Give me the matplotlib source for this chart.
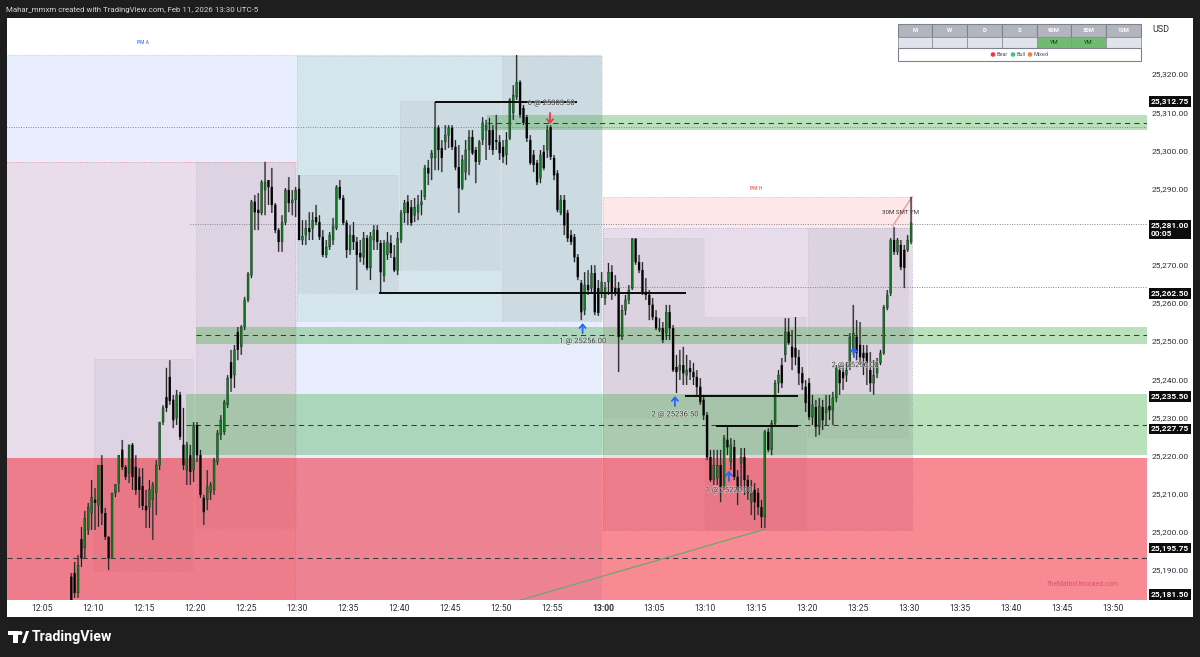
import numpy as np
import matplotlib
matplotlib.use('Agg')
import matplotlib.pyplot as plt
import matplotlib.patheffects as pe
from matplotlib.patches import Rectangle, Circle, Polygon

plt.rcParams['font.family'] = ['Roboto', 'DejaVu Sans']

PRICE_BASE = 25000

# 20 second candles, last one opens at 13:30. prices are minus PRICE_BASE
opens = [
    188.2, 189.2, 184.0, 198.1, 195.8, 200.5, 204.9, 208.4, 207.0, 217.5,
    204.9, 198.7, 193.4, 210.2, 212.8, 221.5, 217.0, 215.4, 222.8, 217.0,
    214.4, 212.0, 206.8, 206.5, 208.4, 210.2, 217.5, 228.8, 235.3, 240.6,
    234.6, 229.8, 235.9, 222.8, 216.2, 220.1, 216.2, 228.0, 220.1, 208.9,
    208.4, 210.4, 211.0, 218.3, 225.4, 226.2, 233.3, 244.5, 241.1, 252.4,
    248.5, 253.7, 260.8, 267.3, 286.5, 284.4, 283.6, 289.6, 292.2, 290.4,
    285.7, 279.1, 276.0, 281.2, 289.6, 286.2, 287.0, 289.9, 276.5, 277.8,
    279.6, 279.6, 282.5, 281.2, 277.3, 272.6, 274.7, 276.5, 279.6, 290.4,
    287.5, 281.0, 273.9, 277.8, 276.0, 273.1, 272.0, 277.0, 269.2, 276.5,
    279.1, 275.7, 267.1, 272.6, 275.7, 272.0, 268.6, 276.5, 283.6, 286.5,
    285.1, 283.0, 283.8, 285.7, 287.8, 295.4, 298.0, 298.0, 305.9, 300.6,
    302.2, 304.0, 305.9, 300.9, 295.6, 290.1, 294.3, 300.1, 303.5, 300.1,
    297.0, 302.7, 305.3, 305.3, 305.3, 302.7, 302.2, 300.9, 298.8, 303.2,
    309.8, 314.0, 317.9, 311.1, 308.7, 302.7, 298.8, 296.7, 292.7, 299.6,
    300.1, 306.1, 298.0, 294.0, 283.6, 287.0, 283.6, 277.8, 277.3, 272.0,
    265.2, 258.1, 264.7, 263.9, 267.8, 263.9, 262.6, 261.3, 265.5, 268.1,
    263.9, 263.9, 251.1, 258.1, 260.8, 263.9, 276.8, 270.7, 268.6, 262.9,
    262.1, 259.5, 256.3, 252.9, 253.4, 252.1, 257.6, 253.4, 243.2, 242.4,
    243.7, 241.1, 242.9, 241.9, 240.6, 238.0, 234.6, 230.6, 219.6, 213.6,
    214.1, 217.5, 211.8, 224.1, 218.3, 222.2, 214.4, 218.0, 219.6, 213.6,
    207.8, 211.0, 210.2, 206.5, 203.9, 226.2, 221.5, 228.5, 239.0, 243.7,
    246.4, 252.4, 248.5, 248.2, 245.8, 241.6, 238.0, 239.0, 230.1, 232.7,
    227.5, 232.7, 231.2, 233.0, 231.9, 235.1, 242.4, 241.9, 241.1, 243.2,
    247.7, 251.1, 249.0, 246.9, 246.9, 242.4, 239.0, 241.6, 244.3, 246.9,
    258.7, 262.6, 276.5, 273.4, 275.2, 273.9, 273.9, 276.0,
]
highs = [
    189.2, 192.1, 193.9, 201.3, 205.5, 207.6, 213.6, 211.5, 217.5, 220.1,
    206.3, 198.7, 210.2, 212.5, 220.1, 224.1, 217.5, 222.8, 223.3, 220.1,
    216.7, 216.7, 211.0, 213.6, 213.1, 218.8, 228.8, 233.2, 243.0, 245.0,
    235.9, 237.2, 236.7, 232.5, 223.6, 222.8, 228.8, 228.8, 221.5, 209.7,
    216.2, 213.1, 219.4, 226.7, 230.6, 234.6, 241.1, 247.7, 249.0, 253.7,
    254.2, 261.6, 268.1, 287.0, 288.3, 288.8, 292.2, 297.0, 292.2, 295.4,
    286.2, 279.6, 283.0, 290.1, 293.0, 289.6, 290.4, 293.5, 281.7, 281.7,
    283.8, 283.8, 285.7, 283.0, 279.1, 276.5, 278.6, 282.3, 290.9, 292.2,
    288.3, 281.7, 280.4, 281.2, 277.3, 276.5, 278.6, 277.8, 278.6, 280.4,
    280.4, 276.5, 276.5, 278.6, 277.8, 275.2, 278.6, 284.4, 287.0, 288.3,
    287.0, 287.5, 288.3, 289.6, 296.2, 297.5, 300.1, 312.7, 306.6, 302.7,
    306.6, 306.6, 306.6, 302.7, 301.4, 298.8, 302.7, 305.3, 305.3, 300.9,
    302.7, 308.7, 308.0, 308.5, 306.6, 309.3, 304.0, 302.7, 304.8, 313.7,
    317.1, 325.0, 318.4, 311.9, 309.3, 304.0, 300.1, 297.5, 300.1, 301.4,
    306.6, 306.6, 298.8, 294.8, 288.3, 288.3, 284.4, 279.1, 278.1, 272.8,
    266.0, 268.1, 268.6, 269.9, 269.9, 266.0, 268.1, 265.5, 270.5, 269.9,
    267.3, 265.5, 259.5, 262.1, 264.7, 277.0, 277.0, 272.6, 270.7, 266.5,
    263.4, 261.3, 258.1, 256.0, 255.0, 259.5, 259.5, 254.2, 246.4, 247.7,
    248.5, 246.4, 245.0, 244.3, 242.4, 240.3, 235.9, 231.4, 221.5, 221.5,
    221.5, 221.5, 225.4, 228.0, 224.6, 224.1, 216.2, 222.0, 222.0, 214.9,
    213.6, 212.8, 211.5, 208.4, 226.7, 227.2, 229.3, 239.8, 242.4, 245.6,
    256.0, 256.0, 252.9, 256.3, 247.7, 243.2, 239.8, 240.3, 235.9, 234.6,
    235.1, 234.6, 235.9, 235.9, 236.7, 243.7, 243.7, 243.7, 244.5, 252.1,
    259.5, 255.5, 255.0, 249.0, 249.0, 247.1, 245.0, 245.6, 247.7, 259.5,
    263.4, 277.0, 279.9, 277.0, 276.5, 275.2, 277.8, 287.8,
]
lows = [
    182.1, 182.7, 182.7, 190.8, 193.1, 199.2, 200.5, 200.5, 201.3, 201.8,
    197.9, 190.0, 193.1, 209.1, 210.4, 216.2, 213.6, 212.8, 211.0, 209.7,
    206.3, 205.7, 201.0, 201.0, 197.9, 204.4, 216.2, 228.0, 231.4, 233.3,
    227.2, 228.0, 224.1, 216.2, 212.3, 212.3, 213.1, 218.3, 208.9, 201.8,
    205.7, 208.4, 209.7, 217.5, 224.1, 225.4, 232.5, 236.7, 237.7, 245.0,
    246.4, 252.9, 260.2, 266.5, 279.1, 279.1, 283.0, 283.0, 285.7, 283.6,
    278.3, 273.4, 273.4, 280.4, 283.8, 283.0, 282.5, 276.5, 275.2, 275.2,
    276.5, 276.5, 280.4, 276.5, 272.0, 271.8, 273.9, 275.2, 279.1, 287.0,
    280.4, 271.8, 272.6, 273.9, 263.4, 270.7, 270.0, 268.6, 266.0, 273.9,
    273.9, 262.6, 265.5, 271.3, 271.8, 268.1, 267.3, 275.7, 281.0, 280.4,
    280.2, 281.2, 281.7, 283.0, 287.0, 290.9, 292.2, 294.8, 294.8, 294.3,
    300.1, 300.6, 300.1, 294.8, 283.6, 289.6, 292.2, 293.5, 298.8, 291.4,
    296.2, 301.4, 297.5, 300.1, 298.8, 300.1, 297.5, 296.7, 296.2, 302.7,
    308.0, 313.2, 308.5, 306.6, 302.2, 296.2, 294.3, 290.9, 291.4, 294.8,
    298.0, 297.5, 292.2, 283.8, 283.0, 277.8, 276.0, 275.2, 270.7, 266.0,
    255.5, 256.8, 262.1, 262.9, 256.8, 256.6, 261.3, 259.5, 262.1, 260.8,
    261.8, 241.9, 250.3, 256.8, 259.7, 263.4, 270.0, 267.8, 262.1, 260.8,
    255.5, 255.5, 252.9, 252.4, 249.5, 250.3, 250.3, 241.9, 236.4, 239.8,
    238.5, 238.5, 239.8, 238.5, 235.9, 233.3, 229.3, 218.8, 213.1, 212.3,
    212.3, 207.8, 211.0, 220.1, 216.2, 213.6, 207.0, 211.0, 209.7, 208.4,
    204.4, 203.1, 204.4, 201.0, 201.0, 220.9, 220.1, 228.0, 236.4, 237.7,
    244.5, 249.0, 242.4, 243.7, 238.5, 237.2, 231.4, 229.3, 228.0, 224.9,
    225.4, 226.7, 228.0, 229.3, 228.0, 234.0, 235.9, 237.2, 239.3, 242.4,
    246.4, 245.0, 243.7, 241.1, 238.5, 236.7, 235.9, 240.3, 243.7, 246.4,
    258.1, 261.8, 272.6, 272.6, 268.6, 263.9, 273.4, 275.4,
]
closes = [
    182.1, 184.0, 191.3, 193.1, 203.6, 206.5, 209.1, 207.6, 217.5, 204.9,
    198.7, 193.1, 210.2, 212.5, 220.1, 217.0, 214.4, 222.8, 214.4, 211.0,
    211.0, 206.8, 205.7, 211.2, 212.3, 217.5, 228.8, 232.5, 232.5, 234.3,
    229.3, 235.9, 224.9, 217.5, 222.8, 215.7, 228.0, 220.1, 209.7, 205.2,
    211.8, 212.3, 218.8, 225.9, 229.3, 234.0, 240.3, 240.3, 247.7, 247.7,
    253.7, 260.8, 267.6, 286.5, 283.8, 283.6, 291.7, 291.7, 290.4, 285.7,
    279.1, 276.0, 281.2, 289.6, 286.2, 287.0, 289.6, 276.5, 277.5, 279.6,
    278.6, 281.7, 281.2, 277.3, 272.6, 274.7, 277.8, 280.2, 290.4, 287.5,
    281.0, 273.9, 277.8, 276.0, 272.6, 272.0, 277.0, 269.2, 277.5, 279.1,
    276.0, 268.1, 275.7, 276.0, 273.1, 268.6, 277.0, 283.6, 286.2, 283.6,
    281.0, 285.1, 285.7, 286.5, 295.4, 294.0, 299.3, 305.9, 300.1, 298.0,
    304.0, 305.9, 300.9, 295.6, 290.1, 297.5, 300.1, 303.5, 299.3, 297.0,
    302.2, 307.2, 306.6, 301.4, 300.1, 302.2, 299.3, 298.3, 302.7, 313.2,
    314.5, 317.9, 309.3, 307.2, 303.2, 296.7, 296.2, 291.7, 298.8, 295.4,
    305.3, 298.3, 293.5, 284.4, 287.0, 280.4, 277.0, 276.0, 272.0, 266.8,
    257.6, 264.7, 263.4, 267.8, 257.6, 257.4, 265.5, 263.9, 268.1, 262.9,
    262.9, 251.1, 258.1, 260.8, 263.4, 276.8, 270.7, 268.6, 262.9, 262.1,
    259.5, 256.3, 253.4, 253.4, 250.3, 257.6, 253.4, 242.4, 241.9, 243.7,
    241.6, 242.4, 241.9, 240.6, 238.0, 234.0, 230.6, 219.6, 213.6, 217.5,
    217.5, 211.8, 224.6, 222.2, 222.8, 214.4, 211.0, 219.6, 213.6, 210.2,
    210.4, 207.8, 206.5, 203.9, 226.2, 221.5, 228.5, 239.0, 241.1, 239.0,
    252.4, 249.5, 245.8, 245.8, 241.6, 239.0, 233.8, 230.1, 233.3, 227.5,
    233.0, 229.3, 232.5, 231.9, 235.1, 243.0, 239.0, 240.3, 242.4, 251.1,
    252.1, 246.9, 245.8, 245.6, 244.3, 239.0, 241.1, 244.3, 246.9, 258.9,
    262.1, 276.5, 273.4, 276.5, 269.4, 269.2, 276.5, 281.0,
]

# minutes after 12:00 for the time axis
time_ticks = list(range(5, 115, 5))
time_labels = ['12:05', '12:10', '12:15', '12:20', '12:25', '12:30', '12:35', '12:40', '12:45', '12:50',
               '12:55', '13:00', '13:05', '13:10', '13:15', '13:20', '13:25', '13:30', '13:35', '13:40',
               '13:45', '13:50']
price_ticks = [25190, 25200, 25210, 25220, 25230, 25240, 25250, 25260, 25270,
               25290, 25300, 25310, 25320]
price_labels = ['25,190.00', '25,200.00', '25,210.00', '25,220.00', '25,230.00', '25,240.00', '25,250.00',
                '25,260.00', '25,270.00', '25,290.00', '25,300.00', '25,310.00', '25,320.00']
# price tags: price shown, level they sit at
tag_labels = ['25,312.75', '25,262.50', '25,235.50', '25,227.75', '25,195.75', '25,181.50']
tag_levels = [25312.75, 25262.5, 25235.5, 25227.0, 25195.75, 25183.6]

# session and range boxes: t0, t1, low, high
pm_a = (1.5, 59.8, 25180, 25325)
pm_a_low = (1.5, 29.8, 25180, 25296.9)
pm_a_high = (30, 59.8, 25255.3, 25324.7)
pm_h = (60, 90.3, 25200.5, 25287.8)
pm_h_range = (60, 90.3, 25200.5, 25279.6)
grey_boxes = [
    (10.1, 19.8, 25189.7, 25245.3),
    (20.1, 29.9, 25201.0, 25296.9),
    (30.1, 39.9, 25262.6, 25293.5),
    (40.1, 49.9, 25268.6, 25312.9),
    (50.1, 59.9, 25255.3, 25324.7),
    (60.0, 69.9, 25229.8, 25277.0),
    (70.0, 79.9, 25200.5, 25256.3),
    (80.1, 89.9, 25224.6, 25279.6),
]
# supply / demand zones: t0, low, high, mid
green_zones = [
    (48.6, 25305.3, 25309.2, 25307.2),
    (20.1, 25249.2, 25253.7, 25251.6),
    (19.1, 25220.1, 25236.1, 25228.0),
]
red_zone = (1.5, 25180, 25219.4)
red_mid = 25193.1

# black levels: t0, t1, price
level_lines = [
    (43.5, 57.45, 25312.7),
    (38.0, 68.15, 25262.6),
    (68.0, 79.1, 25235.6),
    (71.1, 79.1, 25227.75),
]
# dotted levels: t0, price
dotted_lines = [(1.5, 25306.1), (19.5, 25280.7), (60.0, 25264.2)]

# entries: t, arrow tail, arrow tip, colour
arrows = [
    (58.0, 25252.1, 25254.7, '#2962ff'),
    (67.05, 25233.0, 25235.6, '#2962ff'),
    (72.35, 25213.3, 25216.0, '#2962ff'),
    (84.6, 25245.8, 25248.5, '#2962ff'),
    (54.8, 25309.8, 25306.9, '#f23645'),
]
notes = ['6 @ 25303.50', '1 @ 25256.00', '2 @ 25236.50', '1 @ 25220.00', '2 @ 25256.00']
note_t = [54.9, 58.0, 67.05, 72.35, 84.7]
note_p = [25312.4, 25250.0, 25230.8, 25210.9, 25243.7]

table_cols = ['M', 'W', 'D', 'S', '90M', '30M', '10M']
table_vals = ['', '', '', '', 'YM', 'YM', '']


def add_box(ax, box, color, alpha, edge=None, z=1):
    # box is t0, t1, low, high
    t0, t1, low, high = box
    ax.add_patch(Rectangle((t0, low), t1 - t0, high - low, facecolor=color, alpha=alpha,
                           edgecolor='none', zorder=z))
    if edge:
        ax.add_patch(Rectangle((t0, low), t1 - t0, high - low, facecolor='none', edgecolor=edge,
                               linewidth=0.6, linestyle=':', zorder=z))


def plot_candles(ax):
    o = np.array(opens) + PRICE_BASE
    h = np.array(highs) + PRICE_BASE
    l = np.array(lows) + PRICE_BASE
    c = np.array(closes) + PRICE_BASE
    # last candle opens at 13:30, the scale sits a touch left of the ticks
    t = 90.2 - (len(o) - 1 - np.arange(len(o))) / 3
    halo = ax.vlines(t, l, h, colors='#6e6e6e', linewidth=1.5, alpha=0.45, zorder=4.5)
    halo.set_snap(False)
    wicks = ax.vlines(t, l, h, colors='#1a1a1a', linewidth=0.7, zorder=5)
    wicks.set_snap(False)
    colors = np.where(c >= o, '#127a22', '#000000')
    bottoms = np.minimum(o, c)
    heights = np.abs(c - o)
    ax.bar(t, heights, bottom=bottoms, width=0.2, color=colors, edgecolor='#111111',
           linewidth=0.2, zorder=6, snap=False)


def plot_chart(fig):
    ax = fig.add_axes([7 / 1200, 57 / 657, 1140 / 1200, 582 / 657])
    ax.set_xlim(1.569, 113.33)
    ax.set_ylim(25182.14, 25334.7)
    ax.set_facecolor('white')
    for s in ax.spines.values():
        s.set_visible(False)

    add_box(ax, pm_a, '#e8eefd', 1.0, '#b5c9f5', z=1)
    add_box(ax, pm_a_low, '#f57d8c', 0.15, '#f08a8a', z=1.1)
    add_box(ax, pm_a_high, '#80c0a0', 0.18, '#a8d0c0', z=1.1)
    add_box(ax, pm_h, '#f77c80', 0.18, '#f5b5b5', z=1.1)
    add_box(ax, pm_h_range, '#719ef6', 0.15, '#b5b9e8', z=1.2)
    for box in grey_boxes:
        add_box(ax, box, '#82828c', 0.1, '#c9c9d0', z=1.3)

    add_box(ax, (red_zone[0], 113.5, red_zone[1], red_zone[2]), '#f23645', 0.58, z=2)
    for t0, low, high, mid in green_zones:
        add_box(ax, (t0, 113.5, low, high), '#4caf50', 0.38, z=2.1)
        ax.plot([t0, 113.33], [mid, mid], color='#3a3a3a', lw=0.75, ls=(0, (5, 4)), zorder=3)
    ax.plot([1.569, 113.33], [red_mid, red_mid], color='#3a3a3a', lw=0.75, ls=(0, (5, 4)), zorder=3)

    for t0, p in dotted_lines:
        ax.plot([t0, 113.33], [p, p], color='#85858f', lw=0.7, ls=(0, (1, 1.5)), zorder=3)

    # smt lines
    ax.plot([51.86, 75.88], [25182.1, 25200.7], color='#6fa56f', lw=0.9, zorder=4)
    ax.plot([88.4, 90.3], [25280.2, 25287.8], color='#f09090', lw=0.9, zorder=4)

    plot_candles(ax)

    for t0, t1, p in level_lines:
        ax.plot([t0, t1], [p, p], color='#0a0a0a', lw=1.4, zorder=7, solid_capstyle='butt')

    for t, tail, tip, col in arrows:
        ax.annotate('', xy=(t, tip), xytext=(t, tail), zorder=8,
                    arrowprops=dict(arrowstyle='->,head_width=0.22,head_length=0.25', color=col,
                                    lw=1.3, shrinkA=0, shrinkB=0))
    for s, t, p in zip(notes, note_t, note_p):
        ax.text(t, p, s, fontsize=5.5, color='#444444', ha='center', va='center', zorder=8,
                path_effects=[pe.withStroke(linewidth=1, foreground='white', alpha=0.45)])

    ax.text(14.9, 25328.3, 'PM A', fontsize=3.5, color='#5b8def', ha='center', va='center', weight='bold')
    ax.text(75.0, 25289.9, 'PM H', fontsize=3.5, color='#f0707a', ha='center', va='center', weight='bold')
    ax.text(89.2, 25283.8, '30M SMT YM', fontsize=4.4, color='#333333', ha='center', va='center', zorder=8)
    ax.text(107.0, 25186.3, 'TheMatrixUnlocked.com', fontsize=4.8, color='#d9566b', ha='center', va='center', zorder=8)

    ax.set_xticks(time_ticks)
    ax.set_xticklabels(time_labels, fontsize=6.2, color='#2a2e39')
    ax.get_xticklabels()[11].set_fontweight('bold')
    ax.yaxis.tick_right()
    ax.set_yticks(price_ticks)
    ax.set_yticklabels(price_labels, fontsize=6, color='#2a2e39')
    ax.tick_params(axis='both', length=0)
    ax.tick_params(axis='x', pad=3)
    ax.tick_params(axis='y', pad=3)

    # price tags on the scale
    trans = ax.get_yaxis_transform()
    for s, p in zip(tag_labels, tag_levels):
        ax.text(1.0032, p, s, transform=trans, fontsize=6, color='white', weight='bold', ha='left', va='center',
                clip_on=False, zorder=10,
                bbox=dict(boxstyle='square,pad=0.22', facecolor='#0c0c0c', edgecolor='none'))
    ax.text(1.0032, 25279.2, '25,281.00\n00:05', transform=trans, fontsize=6, color='white', weight='bold',
            ha='left', va='center', linespacing=1.15, clip_on=False, zorder=10,
            bbox=dict(boxstyle='square,pad=0.22', facecolor='#0c0c0c', edgecolor='none'))
    return ax


def plot_overlay(fig):
    # page chrome, drawn in screen pixels
    ov = fig.add_axes([0, 0, 1, 1], zorder=20)
    ov.set_xlim(0, 1200)
    ov.set_ylim(657, 0)
    ov.axis('off')

    ov.text(6, 10, 'Mahar_mmxm created with TradingView.com, Feb 11, 2026 13:30 UTC-5',
            fontsize=5.7, color='#d6d6d6', va='center')
    ov.text(1161, 29, 'USD', fontsize=6.5, color='#2a2e39', ha='center', va='center')

    # signal table
    x0, w = 897.5, 34.75
    for i, (col, val) in enumerate(zip(table_cols, table_vals)):
        x = x0 + i * w
        ov.add_patch(Rectangle((x, 24), w, 13, facecolor='#b2b5be', edgecolor='#7f828c', lw=0.8))
        ov.text(x + w / 2, 30.5, col, fontsize=4.2, color='white', weight='bold', ha='center', va='center')
        cell = '#6fbb72' if val else '#e0e3eb'
        ov.add_patch(Rectangle((x, 37), w, 11, facecolor=cell, edgecolor='#8f929c', lw=0.6))
        ov.text(x + w / 2, 42.5, val, fontsize=4.2, color='#1f3a22', ha='center', va='center')
    ov.add_patch(Rectangle((x0, 48), 7 * w, 13, facecolor='white', edgecolor='#7f828c', lw=0.8))
    for cx, col, s in [(993, '#f23645', 'Bear'), (1013, '#3fc47a', 'Bull'), (1030, '#ff7a3d', 'Mixed')]:
        ov.add_patch(Circle((cx, 54.5), 2.3, facecolor=col, edgecolor='none'))
        ov.text(cx + 3.5, 54.5, s, fontsize=4, color='#50535e', va='center')

    # tv logo
    ov.add_patch(Rectangle((8, 631), 11, 4, facecolor='white', edgecolor='none'))
    ov.add_patch(Rectangle((13, 631), 5, 12, facecolor='white', edgecolor='none'))
    ov.add_patch(Circle((20.5, 633), 2, facecolor='white', edgecolor='none'))
    ov.add_patch(Polygon([[22, 643], [26, 631], [29, 631], [25, 643]], closed=True, facecolor='white',
                         edgecolor='none'))
    ov.text(32, 637, 'TradingView', fontsize=10.2, color='white', weight='bold', va='center')


fig = plt.figure(figsize=(12, 6.57), dpi=100, facecolor='#1e1e1e')
fig.add_artist(Rectangle((7 / 1200, 40 / 657), 1186 / 1200, 599 / 657, transform=fig.transFigure,
                         facecolor='white', edgecolor='none', zorder=-1))
plot_chart(fig)
plot_overlay(fig)
fig.savefig('out.png', dpi=100, facecolor=fig.get_facecolor())
